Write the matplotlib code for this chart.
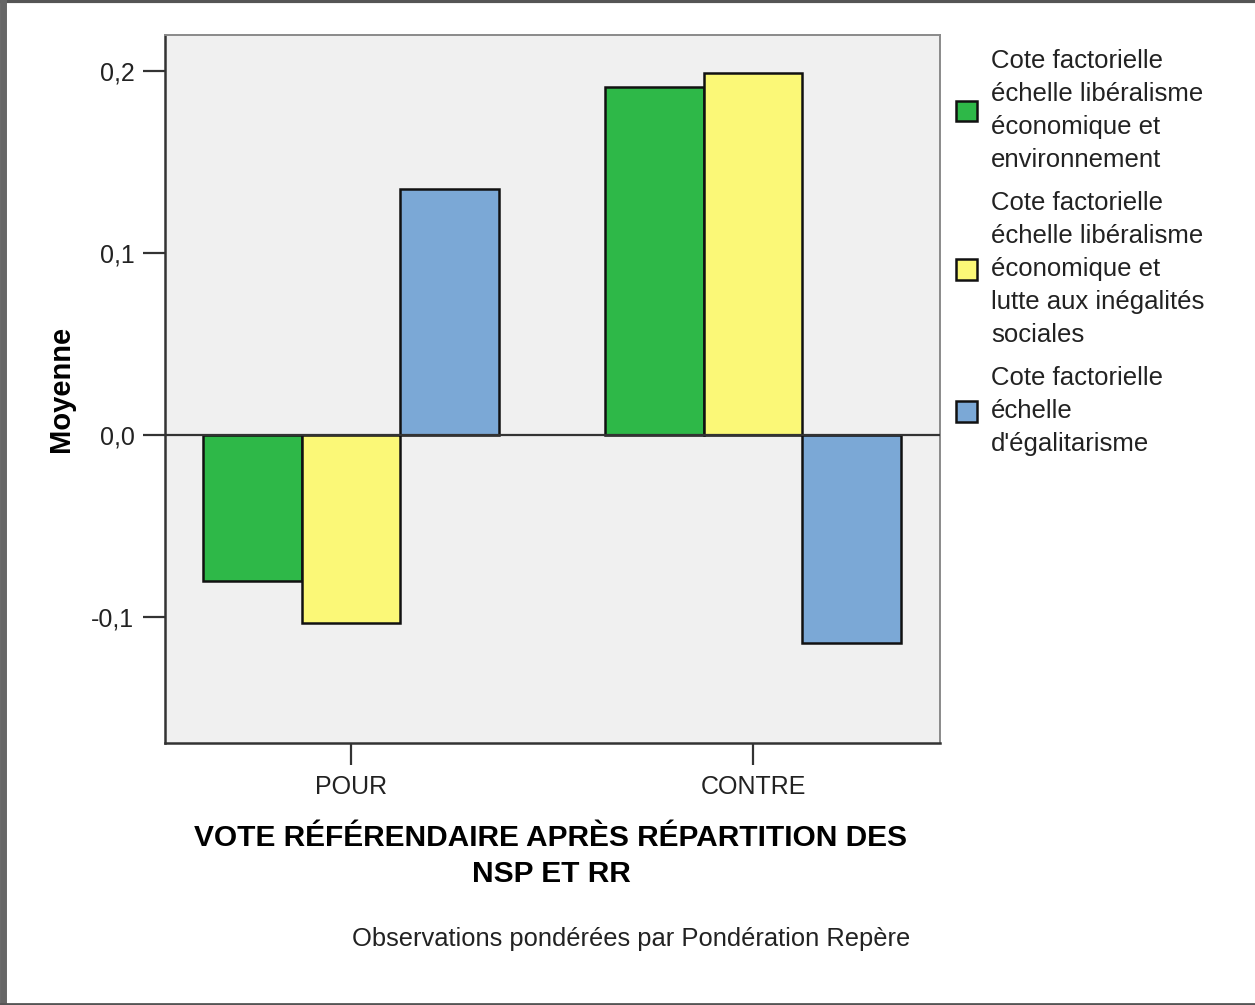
import numpy as np
import matplotlib.pyplot as plt
from matplotlib.lines import Line2D

plt.rcParams['font.family'] = ['Liberation Sans', 'DejaVu Sans']

# data
categories = ["POUR", "CONTRE"]
series_labels = [
    "Cote factorielle\néchelle libéralisme\néconomique et\nenvironnement",
    "Cote factorielle\néchelle libéralisme\néconomique et\nlutte aux inégalités\nsociales",
    "Cote factorielle\néchelle\nd'égalitarisme",
]
liberalisme_env = [-0.080, 0.191]
liberalisme_ineg = [-0.103, 0.199]
egalitarisme = [0.135, -0.114]
colors = ["#2EB848", "#FBF877", "#7BA8D6"]

yticks = [-0.1, 0.0, 0.1, 0.2]
ytick_labels = ["-0,1", "0,0", "0,1", "0,2"]

fig = plt.figure(figsize=(12.55, 10.05), dpi=100)
ax = fig.add_axes([165 / 1255, 1 - 743 / 1005, 775 / 1255, 708 / 1005])
ax.set_facecolor("#F0F0F0")

x = np.arange(len(categories))
w = 0.246
for i, (vals, col, lab) in enumerate(zip([liberalisme_env, liberalisme_ineg, egalitarisme], colors, series_labels)):
    ax.bar(x + (i - 1) * w, vals, width=w, color=col, edgecolor="#111111", linewidth=1.8, label=lab, zorder=3)

ax.axhline(0, color="#333333", linewidth=1.6, zorder=4)
ax.set_xlim(-0.4627, 1.4652)
ax.set_ylim(-0.169, 0.2198)
ax.set_xticks(x)
ax.set_xticklabels(categories)
ax.set_yticks(yticks)
ax.set_yticklabels(ytick_labels)
ax.tick_params(axis="both", direction="out", length=16, width=1.6, color="#333333",
               labelsize=18, labelcolor="#222222", pad=6)
ax.tick_params(axis="x", pad=7)

for s in ["left", "bottom"]:
    ax.spines[s].set_color("#333333")
    ax.spines[s].set_linewidth(1.8)
for s in ["top", "right"]:
    ax.spines[s].set_color("#8A8A8A")
    ax.spines[s].set_linewidth(1.4)

ax.set_ylabel("Moyenne", fontsize=21, fontweight="bold", labelpad=12)
fig.text(551 / 1255, 1 - 856 / 1005, "VOTE RÉFÉRENDAIRE APRÈS RÉPARTITION DES\nNSP ET RR",
         ha="center", va="center", fontsize=21.5, fontweight="bold", linespacing=1.36)
fig.text(910 / 1255, 1 - 939 / 1005, "Observations pondérées par Pondération Repère",
         ha="right", va="center", fontsize=18.4, color="#222222")

leg = fig.legend(loc="upper left", bbox_to_anchor=(943 / 1255, 1 - 36 / 1005), frameon=False,
                 fontsize=18.5, borderpad=0, handlelength=0.84, handleheight=0.84,
                 handletextpad=0.54, labelspacing=0.72)
for t in leg.get_texts():
    t.set_linespacing(1.48)
    t.set_color("#222222")
for h in leg.legend_handles:
    h.set_linewidth(1.8)

# window-like border around the figure
fig.add_artist(Line2D([0, 1], [1 - 1.5 / 1005] * 2, transform=fig.transFigure, color="#555555", linewidth=3))
fig.add_artist(Line2D([2.5 / 1255] * 2, [0, 1], transform=fig.transFigure, color="#666666", linewidth=5))
fig.add_artist(Line2D([0, 1], [1 / 1005] * 2, transform=fig.transFigure, color="#555555", linewidth=2))

fig.savefig("out.png", dpi=100)
